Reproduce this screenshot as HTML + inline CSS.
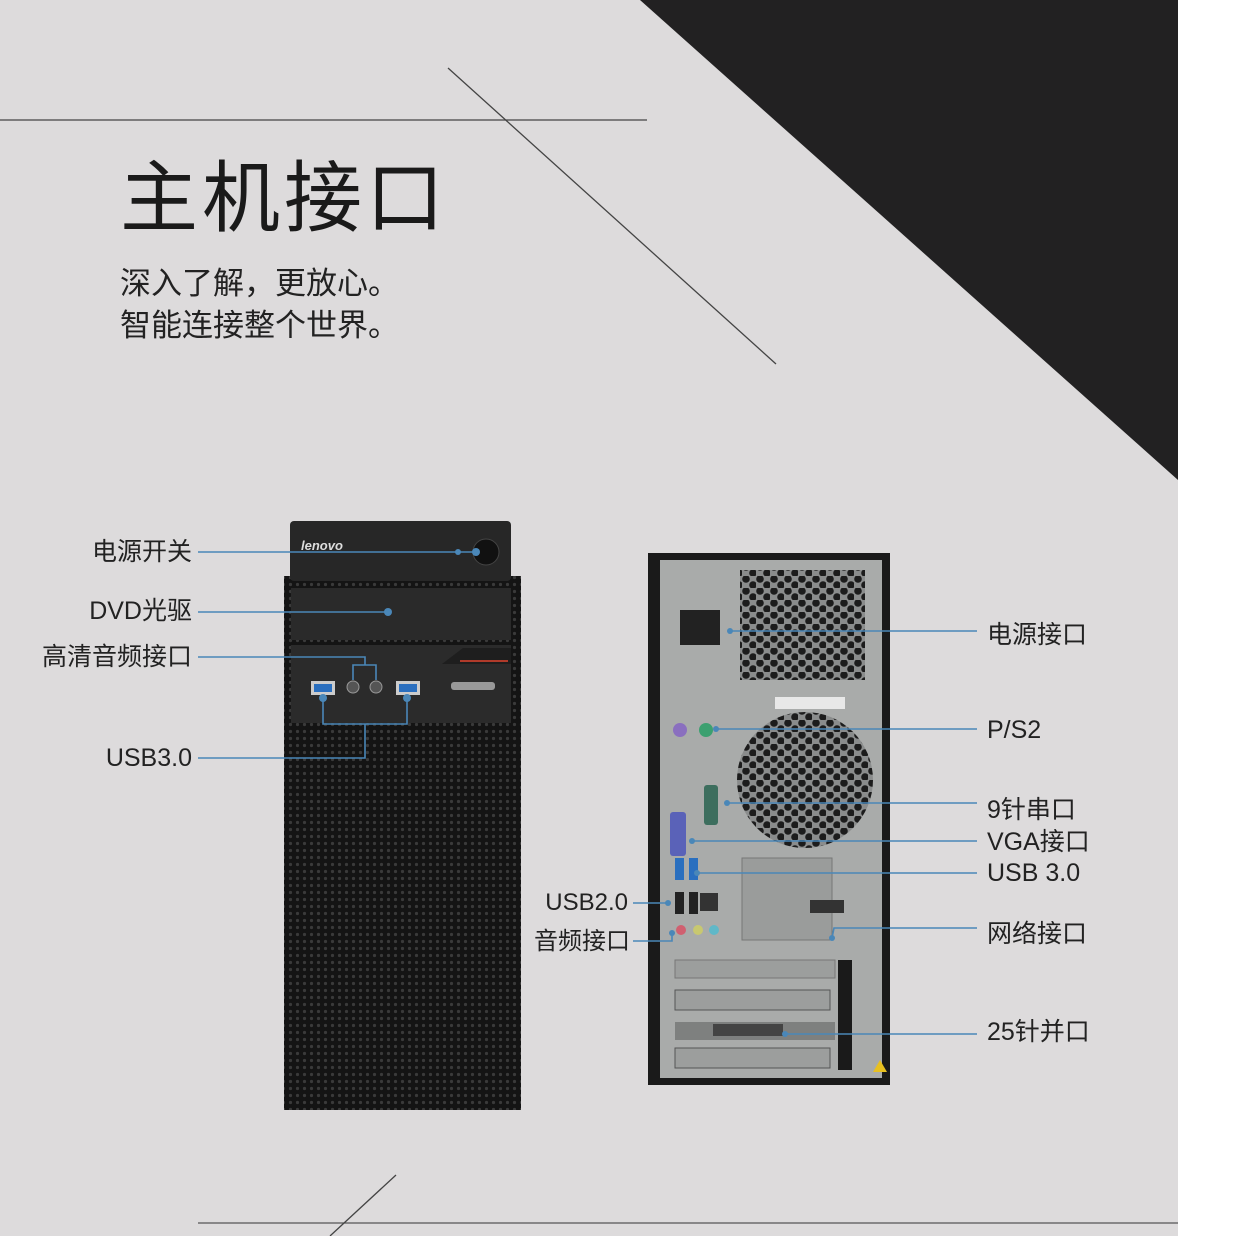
<!DOCTYPE html>
<html><head><meta charset="utf-8"><style>
html,body{margin:0;padding:0;width:1240px;height:1236px;overflow:hidden;background:#fff}
svg{display:block}
text{font-family:"Liberation Sans","Noto Sans CJK SC",sans-serif;fill:#222}
</style></head><body>
<svg width="1240" height="1236" viewBox="0 0 1240 1236" xmlns="http://www.w3.org/2000/svg">
<defs>
<pattern id="mesh" width="7" height="7" patternUnits="userSpaceOnUse">
<rect width="7" height="7" fill="#141414"/><circle cx="3.5" cy="3.5" r="1.6" fill="#3a3a3a"/></pattern>
<pattern id="hex" width="14" height="12" patternUnits="userSpaceOnUse">
<rect width="14" height="12" fill="#8a8c8c"/><circle cx="4" cy="3" r="3.8" fill="#1c1c1c"/><circle cx="11" cy="9" r="3.8" fill="#1c1c1c"/></pattern>
</defs>
<rect width="1178" height="1236" fill="#dddbdc"/>
<polygon points="640,0 1178,0 1178,480" fill="#222122"/>
<line x1="0" y1="120" x2="647" y2="120" stroke="#444" stroke-width="1.3"/>
<line x1="448" y1="68" x2="776" y2="364" stroke="#444" stroke-width="1.3"/>
<line x1="198" y1="1223" x2="1178" y2="1223" stroke="#555" stroke-width="1.3"/>
<line x1="396" y1="1175" x2="330" y2="1236" stroke="#444" stroke-width="1.3"/>
<text x="120" y="225" font-size="78" letter-spacing="4" style="fill:#1a1a1a">主机接口</text>
<text x="120" y="294" font-size="31">深入了解，更放心。</text>
<text x="120" y="336" font-size="31">智能连接整个世界。</text>

<!-- front PC -->
<rect x="284" y="576" width="237" height="534" fill="url(#mesh)"/>
<rect x="290" y="521" width="221" height="60" rx="4" fill="#272727"/>
<text x="301" y="550" font-size="13" font-style="italic" font-weight="bold" style="fill:#ddd">lenovo</text>
<circle cx="486" cy="552" r="13" fill="#111" stroke="#444"/>
<rect x="291" y="588" width="220" height="52" fill="#2a2a2a"/>
<rect x="291" y="645" width="220" height="78" fill="#2b2b2b"/>
<polygon points="442,664 463,648 511,648 511,664" fill="#1e1e1e"/>
<line x1="460" y1="661" x2="508" y2="661" stroke="#b03a2a" stroke-width="2"/>
<rect x="451" y="682" width="44" height="8" rx="3" fill="#999"/>
<rect x="311" y="681" width="24" height="14" fill="#ccc"/><rect x="314" y="684" width="18" height="8" fill="#2a6fbf"/>
<rect x="396" y="681" width="24" height="14" fill="#ccc"/><rect x="399" y="684" width="18" height="8" fill="#2a6fbf"/>
<circle cx="353" cy="687" r="6" fill="#555" stroke="#999"/><circle cx="376" cy="687" r="6" fill="#555" stroke="#999"/>
<g stroke="#4a87b8" stroke-width="1.6" fill="none">
<line x1="198" y1="552" x2="476" y2="552"/>
<line x1="198" y1="612" x2="388" y2="612"/>
<polyline points="198,657 365,657 365,665"/><polyline points="353,680 353,665 376,665 376,680"/>
<polyline points="198,758 365,758 365,724"/><polyline points="323,698 323,724 407,724 407,698"/>
</g>
<g fill="#4a87b8"><circle cx="476" cy="552" r="4"/><circle cx="458" cy="552" r="3"/><circle cx="388" cy="612" r="4"/><circle cx="323" cy="698" r="4"/><circle cx="407" cy="698" r="4"/></g>
<g font-size="25" text-anchor="end">
<text x="192" y="560">电源开关</text><text x="192" y="619">DVD光驱</text><text x="192" y="665">高清音频接口</text><text x="192" y="766">USB3.0</text></g>

<!-- rear PC -->
<rect x="648" y="553" width="242" height="532" fill="#1a1a1a"/>
<rect x="660" y="560" width="222" height="518" fill="#a9abaa"/>
<rect x="740" y="570" width="125" height="110" fill="url(#hex)"/>
<rect x="680" y="610" width="40" height="35" fill="#222"/>
<rect x="775" y="697" width="70" height="12" fill="#e8e8e8"/>
<circle cx="805" cy="780" r="68" fill="url(#hex)"/>
<rect x="742" y="858" width="90" height="82" fill="#9a9c9b" stroke="#777"/>
<circle cx="680" cy="730" r="7" fill="#8a6fbf"/><circle cx="706" cy="730" r="7" fill="#3ca070"/>
<rect x="704" y="785" width="14" height="40" rx="3" fill="#3d6e5e"/>
<rect x="670" y="812" width="16" height="44" rx="3" fill="#5a62b8"/>
<rect x="675" y="858" width="9" height="22" fill="#2a6fbf"/><rect x="689" y="858" width="9" height="22" fill="#2a6fbf"/>
<rect x="675" y="892" width="9" height="22" fill="#222"/><rect x="689" y="892" width="9" height="22" fill="#222"/>
<rect x="700" y="893" width="18" height="18" fill="#333"/>
<circle cx="681" cy="930" r="5" fill="#d06070"/><circle cx="698" cy="930" r="5" fill="#c8c870"/><circle cx="714" cy="930" r="5" fill="#60b8c8"/>
<rect x="810" y="900" width="34" height="13" fill="#333"/>
<rect x="675" y="960" width="160" height="18" fill="#9c9e9d" stroke="#777"/>
<rect x="675" y="990" width="155" height="20" fill="#9c9e9d" stroke="#555"/>
<rect x="675" y="1022" width="160" height="18" fill="#7e807f"/>
<rect x="713" y="1024" width="70" height="12" fill="#444"/>
<rect x="675" y="1048" width="155" height="20" fill="#9c9e9d" stroke="#555"/>
<rect x="838" y="960" width="14" height="110" fill="#1a1a1a"/>
<polygon points="880,1060 873,1072 887,1072" fill="#e8c020"/>
<g stroke="#4a87b8" stroke-width="1.6" fill="none">
<line x1="730" y1="631" x2="977" y2="631"/><line x1="716" y1="729" x2="977" y2="729"/>
<line x1="727" y1="803" x2="977" y2="803"/><line x1="692" y1="841" x2="977" y2="841"/>
<line x1="697" y1="873" x2="977" y2="873"/><polyline points="832,938 834,928 977,928"/>
<line x1="785" y1="1034" x2="977" y2="1034"/>
<line x1="633" y1="903" x2="668" y2="903"/><polyline points="633,941 672,941 672,933"/>
</g>
<g fill="#4a87b8"><circle cx="730" cy="631" r="3"/><circle cx="716" cy="729" r="3"/><circle cx="727" cy="803" r="3"/><circle cx="692" cy="841" r="3"/><circle cx="697" cy="873" r="3"/><circle cx="832" cy="938" r="3"/><circle cx="785" cy="1034" r="3"/><circle cx="668" cy="903" r="3"/><circle cx="672" cy="933" r="3"/></g>
<g font-size="25">
<text x="987" y="643">电源接口</text><text x="987" y="738">P/S2</text><text x="987" y="818">9针串口</text>
<text x="987" y="850">VGA接口</text><text x="987" y="881">USB 3.0</text><text x="987" y="942">网络接口</text><text x="987" y="1040">25针并口</text></g>
<g font-size="24" text-anchor="end"><text x="628" y="910">USB2.0</text><text x="630" y="949">音频接口</text></g>
</svg>
</body></html>
